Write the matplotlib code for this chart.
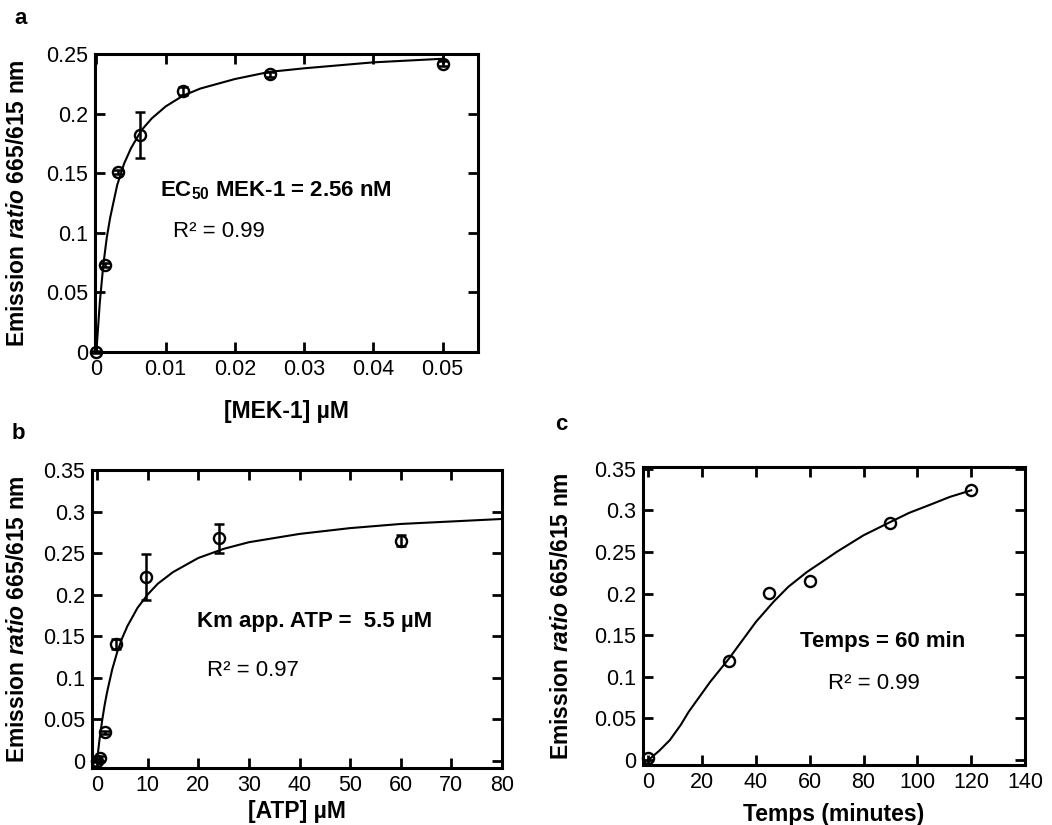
import matplotlib
matplotlib.use("Agg")
from matplotlib import pyplot
from matplotlib.ticker import FuncFormatter

pyplot.rcParams["font.family"] = ["Liberation Sans", "DejaVu Sans"]
pyplot.rcParams["mathtext.fontset"] = "custom"
pyplot.rcParams["mathtext.rm"] = "Liberation Sans"
pyplot.rcParams["mathtext.it"] = "Liberation Sans:italic:bold"
pyplot.rcParams["mathtext.bf"] = "Liberation Sans:bold"

# panel a: MEK-1 titration
mek_conc = [0, 0.0013, 0.003125, 0.00625, 0.0125, 0.025, 0.05]
mek_ratio = [0, 0.073, 0.151, 0.182, 0.219, 0.233, 0.242]
mek_err = [0.001, 0.002, 0.002, 0.019, 0.003, 0.002, 0.002]
mek_fit_x = [0, 0.0005, 0.001, 0.0015, 0.002, 0.003, 0.004, 0.005, 0.0065,
             0.008, 0.01, 0.0125, 0.015, 0.02, 0.025, 0.03, 0.04, 0.05]
mek_fit_y = [0, 0.042, 0.073, 0.096, 0.113, 0.140, 0.158, 0.171, 0.186,
             0.196, 0.206, 0.215, 0.221, 0.229, 0.235, 0.238, 0.243, 0.246]

# panel b: ATP titration
atp_conc = [0, 0.6, 1.5, 3.84, 9.6, 24, 60]
atp_ratio = [0, 0.003, 0.034, 0.140, 0.221, 0.2675, 0.265]
atp_err = [0.002, 0.003, 0.002, 0.006, 0.028, 0.017, 0.007]
atp_fit_x = [0, 0.5, 1, 1.5, 2, 3, 4, 5, 6, 8, 10, 12, 15, 20, 25, 30,
             40, 50, 60, 70, 80]
atp_fit_y = [0, 0.026, 0.048, 0.067, 0.083, 0.110, 0.131, 0.148, 0.162,
             0.184, 0.200, 0.213, 0.227, 0.244, 0.255, 0.263, 0.273,
             0.280, 0.285, 0.288, 0.291]

# panel c: time course
time_min = [0, 30, 45, 60, 90, 120]
time_ratio = [0.003, 0.119, 0.201, 0.215, 0.285, 0.324]
time_fit_x = [0, 4, 8, 12, 15, 19, 23, 27, 30, 35, 40, 46.5, 52, 59, 65,
              70, 80, 90, 97, 105, 112, 120]
time_fit_y = [0, 0.011, 0.024, 0.042, 0.058, 0.076, 0.094, 0.110, 0.122,
              0.144, 0.166, 0.190, 0.208, 0.226, 0.239, 0.250, 0.270,
              0.286, 0.297, 0.307, 0.316, 0.324]

FS = 15.5
LAB_FS = 16.5
NOTE_FS = 16
YLABEL = r"Emission $\mathit{ratio}$ 665/615 nm"


def fmt(v, pos):
    return "%g" % v


def setup_axes(ax, xlim, ylim, xticks, yticks, xlabel, xlab_y, ylab_x):
    ax.set_xlim(*xlim)
    ax.set_ylim(*ylim)
    ax.set_xticks(xticks)
    ax.set_yticks(yticks)
    ax.xaxis.set_major_formatter(FuncFormatter(fmt))
    ax.yaxis.set_major_formatter(FuncFormatter(fmt))
    ax.tick_params(direction="in", length=7, width=2, top=True, right=True,
                   labelsize=FS, pad=5)
    for spine in ax.spines.values():
        spine.set_linewidth(2.2)
    ax.set_xlabel(xlabel, fontsize=LAB_FS, fontweight="bold")
    ax.xaxis.set_label_coords(0.5, xlab_y)
    ax.set_ylabel(YLABEL, fontsize=LAB_FS, fontweight="bold")
    ax.yaxis.set_label_coords(ylab_x, 0.5)


def draw_points(ax, x, y, err=None):
    if err is not None:
        ax.errorbar(x, y, yerr=err, fmt="none", ecolor="black", elinewidth=1.8,
                    capsize=3.5, capthick=1.8, clip_on=False, zorder=3)
    ax.plot(x, y, "o", mfc="none", mec="black", ms=8, mew=1.7, clip_on=False,
            zorder=4)


def text_pair(ax, x1, y1, s1, x2, y2, s2):
    ax.text(x1, y1, s1, fontsize=NOTE_FS, fontweight="bold", va="center",
            ha="left")
    ax.text(x2, y2, s2, fontsize=NOTE_FS, va="center", ha="left")


fig = pyplot.figure(figsize=(10.52, 8.25), dpi=100)
W, H = 1052.0, 825.0


def add_axes(left, right, top, bottom):
    return fig.add_axes([left / W, 1 - bottom / H, (right - left) / W,
                         (bottom - top) / H])


# a
ax = add_axes(95, 478, 54, 352)
ax.plot(mek_fit_x, mek_fit_y, color="black", lw=1.5, clip_on=False)
draw_points(ax, mek_conc, mek_ratio, mek_err)
setup_axes(ax, (-0.0002, 0.0551), (0, 0.25),
           [0, 0.01, 0.02, 0.03, 0.04, 0.05],
           [0, 0.05, 0.1, 0.15, 0.2, 0.25],
           "[MEK-1] µM", -0.161, -0.172)
text_pair(ax, 0.0092, 0.135, r"EC$_{\mathbf{50}}$ MEK-1 = 2.56 nM",
          0.011, 0.101, "R² = 0.99")

# b
ax = add_axes(92, 502, 470, 768)
ax.plot(atp_fit_x, atp_fit_y, color="black", lw=1.5)
draw_points(ax, atp_conc, atp_ratio, atp_err)
setup_axes(ax, (-1, 80), (-0.009, 0.35),
           [0, 10, 20, 30, 40, 50, 60, 70, 80],
           [0, 0.05, 0.1, 0.15, 0.2, 0.25, 0.3, 0.35],
           "[ATP] µM", -0.107, -0.154)
text_pair(ax, 19.7, 0.167, "Km app. ATP =  5.5 µM", 21.7, 0.109, "R² = 0.97")

# c
ax = add_axes(643, 1025, 467, 765)
ax.plot(time_fit_x, time_fit_y, color="black", lw=1.5)
draw_points(ax, time_min, time_ratio)
setup_axes(ax, (-2, 140), (-0.006, 0.352),
           [0, 20, 40, 60, 80, 100, 120, 140],
           [0, 0.05, 0.1, 0.15, 0.2, 0.25, 0.3, 0.35],
           "Temps (minutes)", -0.128, -0.183)
text_pair(ax, 56.2, 0.142, "Temps = 60 min", 66.8, 0.092, "R² = 0.99")

for letter, px, py in [("a", 21, 18), ("b", 18, 434), ("c", 561, 424)]:
    fig.text(px / W, 1 - py / H, letter, fontsize=16, fontweight="bold",
             ha="center", va="center")

fig.savefig("out.png", dpi=100)
